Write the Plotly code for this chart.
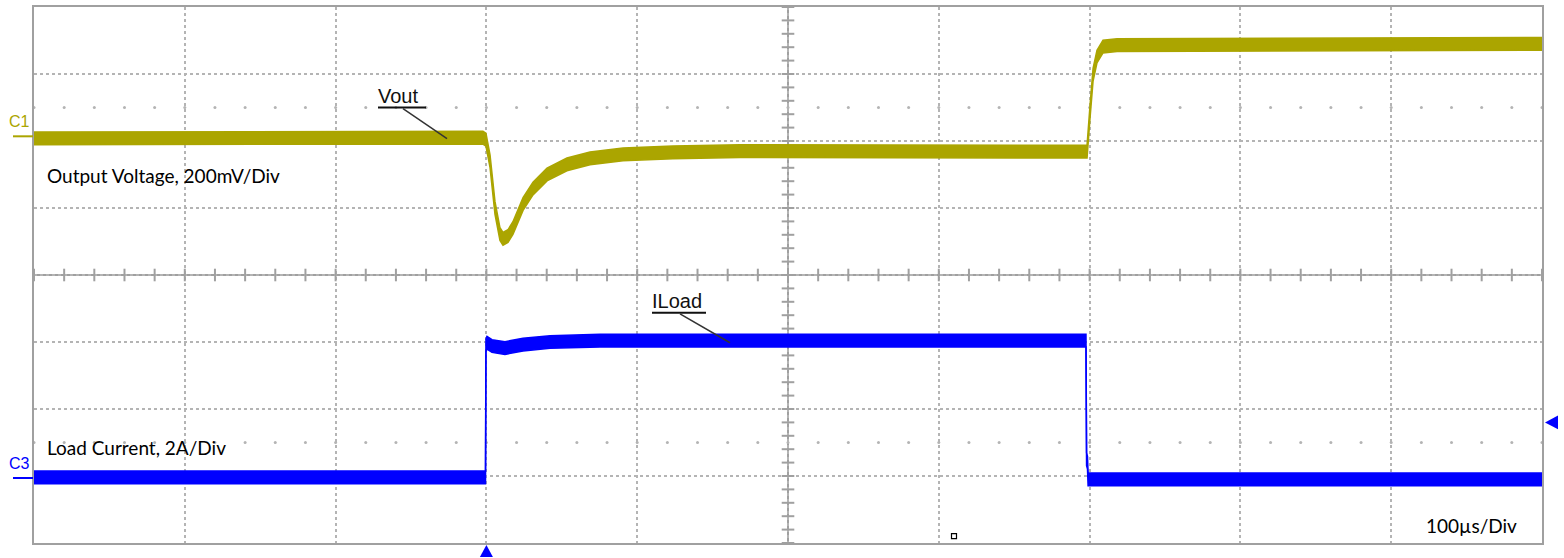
import plotly.graph_objects as go
import numpy as np

# ---------------- data (time in µs, trigger at 0; amplitude in screen divisions) ----------------
vout_t = [-300, -2.3, -0.3, 2.4, 5.7, 9.0, 11.0, 14.3, 17.6, 24.3, 30.9, 40.2, 53.4, 68.7,
          90.6, 123.7, 168.2, 274, 395.6, 398.3, 400.3, 402.3, 404.9, 408.9, 418.2, 700]
vout_v = [6.04, 6.05, 6.02, 5.70, 5.00, 4.61, 4.54, 4.58, 4.70, 5.06, 5.29, 5.50, 5.65, 5.74,
          5.80, 5.83, 5.85, 5.85, 5.85, 5.84, 6.44, 6.99, 7.26, 7.41, 7.43, 7.45]

iload_t = [-300, -1.6, -0.6, -0.3, 0.4, 3.7, 12.3, 24.3, 42.2, 75.3, 396.3, 397.6, 398.0,
           398.6, 399.0, 700]
iload_v = [0.98, 0.98, 0.98, 2.95, 2.99, 2.94, 2.91, 2.96, 3.00, 3.02, 3.02, 3.02, 1.25,
           1.20, 0.95, 0.95]

band_half = 0.095         # half thickness of the noisy trace band (div)

channel_names = ["C1", "C3"]
channel_offsets = [6.07, 0.97]
channel_colors = ["#aba500", "#0000ff"]

trigger_time = 0
trigger_level = 1.8

x_range = [-300, 700]     # 10 div x 100 µs
y_range = [0, 8]          # 8 vertical divisions

# ---------------- geometry helpers (pixel -> axis coords for decorations) ----------------
L, R, T, B = 34, 1542, 5, 543
def px2t(px):
    return x_range[0] + (px - L) / (R - L) * (x_range[1] - x_range[0])
def py2v(py):
    return y_range[0] + (B - py) / (B - T) * (y_range[1] - y_range[0])
def px2paper(px):
    return (px - L) / (R - L)
def py2paper(py):
    return (B - py) / (B - T)
def t2px(t):
    return L + (t - x_range[0]) / (x_range[1] - x_range[0]) * (R - L)
def v2py(v):
    return B - (v - y_range[0]) / (y_range[1] - y_range[0]) * (B - T)

GRID = "#b4b4b4"
FRAME = "#a0a0a0"

fig = go.Figure()

# sparse dot rows
dot_t = np.arange(x_range[0], x_range[1] + 0.1, 20)
for row in [6.5, 1.5]:
    fig.add_trace(go.Scatter(x=dot_t, y=[row] * len(dot_t), mode="markers",
                             marker=dict(size=3, color=GRID), hoverinfo="skip", showlegend=False))

# ticks on the centre cross
ht = np.arange(x_range[0], x_range[1] + 0.1, 20)
fig.add_trace(go.Scatter(x=ht, y=[4] * len(ht), mode="markers",
                         marker=dict(symbol="line-ns", size=9, line=dict(width=2, color=FRAME)),
                         hoverinfo="skip", showlegend=False))
vt = np.arange(y_range[0], y_range[1] + 0.01, 0.2)
fig.add_trace(go.Scatter(x=[200] * len(vt), y=vt, mode="markers",
                         marker=dict(symbol="line-ew", size=9, line=dict(width=2, color=FRAME)),
                         hoverinfo="skip", showlegend=False))

# traces as filled bands
def band(t, v, color, name):
    up = [a + band_half for a in v]
    lo = [a - band_half for a in v]
    fig.add_trace(go.Scatter(x=t, y=up, mode="lines", line=dict(color=color, width=1.5),
                             showlegend=False, name=name, hoverinfo="skip"))
    fig.add_trace(go.Scatter(x=t, y=lo, mode="lines", line=dict(color=color, width=1.5),
                             fill="tonexty", fillcolor=color, showlegend=False, name=name))

band(vout_t, vout_v, channel_colors[0], "Vout")
band(iload_t, iload_v, channel_colors[1], "ILoad")

# small artifact square
fig.add_trace(go.Scatter(x=[px2t(954)], y=[py2v(536)], mode="markers",
                         marker=dict(symbol="square-open", size=5, color="black", line=dict(width=1.2)),
                         hoverinfo="skip", showlegend=False))

shapes = []
# centre cross
shapes.append(dict(type="line", xref="x", yref="y", x0=200, x1=200, y0=y_range[0], y1=y_range[1],
                   line=dict(color=FRAME, width=2), layer="below"))
shapes.append(dict(type="line", xref="x", yref="y", x0=x_range[0], x1=x_range[1], y0=4, y1=4,
                   line=dict(color=FRAME, width=2), layer="below"))

# trigger markers (outside the plot area -> paper referenced paths)
def tri_path(pts):
    p = [(px2paper(x), py2paper(y)) for x, y in pts]
    return "M {} {} L {} {} L {} {} Z".format(*[c for xy in p for c in xy])

tx = t2px(trigger_time)
shapes.append(dict(type="path", xref="paper", yref="paper",
                   path=tri_path([(tx, 545), (tx - 6.5, 557), (tx + 6.5, 557)]),
                   fillcolor=channel_colors[1], line=dict(width=0)))
ty = v2py(trigger_level)
shapes.append(dict(type="path", xref="paper", yref="paper",
                   path=tri_path([(1545, ty), (1558, ty - 7), (1558, ty + 7)]),
                   fillcolor=channel_colors[1], line=dict(width=0)))

# channel offset markers and labels
annotations = []
for name, off, col in zip(channel_names, channel_offsets, channel_colors):
    shapes.append(dict(type="line", xref="paper", yref="y", x0=px2paper(13), x1=px2paper(33),
                       y0=off, y1=off, line=dict(color=col, width=2)))
    annotations.append(dict(text=name, xref="paper", yref="y", x=px2paper(7), y=off + 0.22,
                            xanchor="left", yanchor="middle", showarrow=False,
                            font=dict(family="Liberation Sans", size=16, color=col)))

# callouts
def callout(text, tx, ty, ux0, ux1, uy, lx0, ly0, lx1, ly1):
    annotations.append(dict(text=text, x=px2t(tx), y=py2v(ty), xanchor="left", yanchor="middle",
                            showarrow=False, font=dict(family="Liberation Sans", size=20, color="#111")))
    shapes.append(dict(type="line", x0=px2t(ux0), x1=px2t(ux1), y0=py2v(uy), y1=py2v(uy),
                       line=dict(color="#111", width=2)))
    shapes.append(dict(type="line", x0=px2t(lx0), x1=px2t(lx1), y0=py2v(ly0), y1=py2v(ly1),
                       line=dict(color="#333", width=1.5)))

callout("Vout", 376, 94, 378, 426, 106, 403, 107, 447, 137)
callout("ILoad", 650, 300, 652, 706, 312, 680, 313, 730, 342)

for text, px, py in [("Output Voltage, 200mV/Div", 45, 174),
                     ("Load Current, 2A/Div", 45, 447),
                     ("100µs/Div", 1424, 525)]:
    annotations.append(dict(text=text, x=px2t(px), y=py2v(py), xanchor="left", yanchor="middle",
                            showarrow=False, font=dict(family="Lato", size=19, color="black")))

fig.update_layout(
    width=1564, height=558,
    margin=dict(l=L, r=1564 - R, t=T, b=558 - B),
    paper_bgcolor="white", plot_bgcolor="white",
    shapes=shapes, annotations=annotations,
    xaxis=dict(range=x_range, dtick=100, tick0=x_range[0], showticklabels=False, ticks="",
               showgrid=True, gridcolor=GRID, griddash="dot", gridwidth=1.5, zeroline=False,
               showline=True, linecolor=FRAME, linewidth=2, mirror=True),
    yaxis=dict(range=y_range, dtick=1, tick0=0, showticklabels=False, ticks="",
               showgrid=True, gridcolor=GRID, griddash="dot", gridwidth=1.5, zeroline=False,
               showline=True, linecolor=FRAME, linewidth=2, mirror=True),
)

fig.write_html("out.html", config={"displayModeBar": False},
               post_script="document.body.style.margin='0';document.body.style.padding='0';")
